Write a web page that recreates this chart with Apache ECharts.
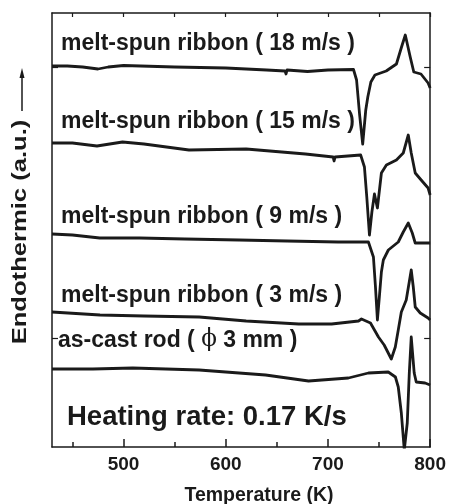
<!DOCTYPE html>
<html>
<head>
<meta charset="utf-8">
<script src="https://cdn.jsdelivr.net/npm/echarts@6/dist/echarts.min.js"></script>
<style>html,body{margin:0;padding:0;background:#fff;}#c{width:449px;height:504px;}</style>
</head>
<body>
<div id="c"></div>
<script>
// Temperature (K) vs heat flow (arbitrary units, offset curves)
const ribbon18 = [[430,381],[445,381],[460,380],[475,378],[485,380],[500,381.5],[550,380],[600,379],[640,377],[658,376],[659,373],[660,377],[680,375.5],[700,377],[725,377.5],[728,367],[731,332],[734,303],[737,337],[739,350],[742,365],[746,372],[757,376],[767,383],[772,400],[775.7,412],[780.5,390],[784,375],[791,373],[798,364],[800,359]];
const ribbon15 = [[430,304],[450,304],[474,301],[499,305],[520,303],[564,297],[620,298],[678,293],[705,290],[706,286],[707,290],[732,292],[735.7,280],[738,250],[740.6,212],[743,235],[745.5,253],[748.4,239],[752.3,274],[757.2,282],[767,287],[773.7,294],[778.6,312],[781.5,294],[785.4,274],[791.2,267],[798,259],[800,252]];
const ribbon9 = [[430,213],[450,212],[476.7,209],[515.7,209],[560,208],[613,207],[660,206],[710,205],[739.6,205],[744.5,190],[746.5,160],[748.4,127],[750.3,150],[752.3,175],[754.2,187],[759.1,197],[768.8,205],[773.7,215],[778.6,224],[782.5,214],[785.4,204],[792,204],[800,204]];
const ribbon3 = [[430,135],[477,132],[520,131],[574,130],[620,126],[671.5,123],[703.6,123],[729.9,126],[732.8,128],[741.6,124],[749.4,110],[755,102],[762,88],[765.9,100],[768.8,117],[771.8,135],[776.6,147],[781.5,177],[783.5,160],[785.4,140],[790.3,134],[798,129],[800,127]];
const asCastRod = [[430,78],[470,78],[509,79],[574,77],[639,72],[681,66],[720,69],[739.6,74],[759,75],[766,70],[768.8,60],[771.8,34],[774.7,-3],[777.6,24],[779.6,74],[781.5,110],[784.4,74],[786.4,65],[795,64],[800,62]];

const xLabelValues = [500, 600, 700, 800];
const xMinorValues = [450, 550, 650, 750];
const yTickValues = [109, 380];
const curveLabels = ['melt-spun ribbon ( 18 m/s )','melt-spun ribbon ( 15 m/s )','melt-spun ribbon ( 9 m/s )','melt-spun ribbon ( 3 m/s )'];
const rodLabel = ['as-cast rod ( ', 'ϕ', ' 3 mm )'];
const noteText = 'Heating rate: 0.17 K/s';
const xTitle = 'Temperature (K)';
const yTitle = 'Endothermic (a.u.)';

const FONT = '"Liberation Sans", Arial, Helvetica, sans-serif';
const ink = '#1a1a1a';
const chart = echarts.init(document.getElementById('c'), null, {renderer:'canvas'});

const seriesData = [ribbon18, ribbon15, ribbon9, ribbon3, asCastRod];
const labelY = [43, 121, 216, 295];

const graphics = [];
curveLabels.forEach((t,i)=>{
  graphics.push({type:'text', x:61, y:labelY[i], scaleY:1.08, style:{text:t, font:'bold 23px '+FONT, fill:ink, verticalAlign:'middle', align:'left'}});
});
graphics.push({type:'text', x:58, y:340, scaleY:1.08, style:{
  text:'{a|'+rodLabel[0]+'}{p|'+rodLabel[1]+'}{a|'+rodLabel[2]+'}',
  verticalAlign:'middle', align:'left',
  rich:{a:{font:'bold 23px '+FONT, fill:ink}, p:{font:'normal 23px "DejaVu Serif", serif', fill:ink}}
}});
graphics.push({type:'text', x:67, y:417, style:{text:noteText, font:'bold 27.5px '+FONT, fill:ink, verticalAlign:'middle', align:'left'}});
graphics.push({type:'text', x:20, y:232, rotation:Math.PI/2, scaleX:1.28, style:{text:yTitle, font:'bold 20px '+FONT, fill:ink, verticalAlign:'middle', align:'center'}});
graphics.push({type:'line', shape:{x1:22, y1:111, x2:22, y2:74}, style:{stroke:ink, lineWidth:1.5}});
graphics.push({type:'polygon', shape:{points:[[22,68],[19.5,78],[24.5,78]]}, style:{fill:ink}});
graphics.push({type:'text', x:259, y:496, style:{text:xTitle, font:'bold 19.5px '+FONT, fill:ink, verticalAlign:'middle', align:'center'}});

const axisLineStyle = {color: ink, width: 1.5};

chart.setOption({
  animation:false,
  backgroundColor:'#fff',
  grid:{left:52, right:17, top:13, bottom:57, containLabel:false},
  xAxis:[
    {type:'value', min:430, max:800, position:'bottom',
     axisLine:{show:true, lineStyle:axisLineStyle, onZero:false},
     axisTick:{show:true, inside:true, length:8, lineStyle:{color:ink, width:1.5}, customValues:xLabelValues},
     axisLabel:{show:true, customValues:xLabelValues, fontFamily:FONT, fontWeight:'bold', fontSize:19, color:ink, margin:8},
     splitLine:{show:false}},
    {type:'value', min:430, max:800, position:'bottom',
     axisLine:{show:false, onZero:false},
     axisTick:{show:true, inside:true, length:5, lineStyle:{color:ink, width:1.5}, customValues:xMinorValues},
     axisLabel:{show:false}, splitLine:{show:false}},
    {type:'value', min:430, max:800, position:'top',
     axisLine:{show:true, lineStyle:axisLineStyle, onZero:false},
     axisTick:{show:true, inside:true, length:4, lineStyle:{color:ink, width:1.2}, customValues:xMinorValues.concat(xLabelValues)},
     axisLabel:{show:false}, splitLine:{show:false}}
  ],
  yAxis:[
    {type:'value', min:0, max:434, position:'left',
     axisLine:{show:true, lineStyle:axisLineStyle, onZero:false},
     axisTick:{show:true, inside:true, length:6, lineStyle:{color:ink, width:1.2}, customValues:yTickValues},
     axisLabel:{show:false}, splitLine:{show:false}},
    {type:'value', min:0, max:434, position:'right',
     axisLine:{show:true, lineStyle:axisLineStyle, onZero:false},
     axisTick:{show:true, inside:true, length:6, lineStyle:{color:ink, width:1.2}, customValues:yTickValues},
     axisLabel:{show:false}, splitLine:{show:false}}
  ],
  series: seriesData.map(d=>({
    type:'line', data:d, xAxisIndex:0, yAxisIndex:0, showSymbol:false, symbol:'none',
    clip:true, lineStyle:{color:ink, width:2.8, join:'round'}, silent:true
  })),
  graphic: graphics
});
</script>
</body>
</html>
